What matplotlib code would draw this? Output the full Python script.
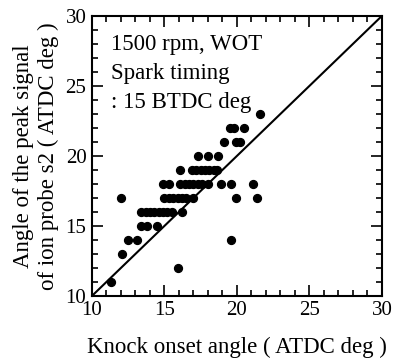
import matplotlib.pyplot as plt
from matplotlib.ticker import MultipleLocator

# knock onset angle (x) vs angle of peak ion signal (y)
knock = [11.3, 12.0, 12.1, 12.5, 13.1,
         13.4, 13.8, 14.5,
         13.4, 13.7, 14.0, 14.3, 14.6, 14.9, 15.2, 15.5, 16.2,
         15.0, 15.3, 15.6, 15.9, 16.2, 16.5, 17.0, 19.9, 21.4,
         14.9, 15.3, 16.1, 16.4, 16.7, 17.0, 17.3, 17.6, 18.0, 18.9, 19.6, 21.1,
         16.1, 16.9, 17.2, 17.5, 17.8, 18.1, 18.4, 18.6,
         17.3, 18.0, 18.7,
         19.1, 19.9, 20.2,
         19.5, 19.8, 20.5,
         21.6, 19.6, 15.9]
peak = [11, 17, 13, 14, 14,
        15, 15, 15,
        16, 16, 16, 16, 16, 16, 16, 16, 16,
        17, 17, 17, 17, 17, 17, 17, 17, 17,
        18, 18, 18, 18, 18, 18, 18, 18, 18, 18, 18, 18,
        19, 19, 19, 19, 19, 19, 19, 19,
        20, 20, 20,
        21, 21, 21,
        22, 22, 22,
        23, 14, 12]

plt.rcParams['font.family'] = ['Liberation Serif', 'DejaVu Serif']

fig = plt.figure(figsize=(3.93, 3.6), dpi=100)
ax = fig.add_axes([0.234, 0.178, 0.738, 0.778])

ax.plot([10, 30], [10, 30], color="black", lw=1.5)
ax.scatter(knock, peak, s=32, color="black", zorder=3)

ax.set_xlim(10, 30)
ax.set_ylim(10, 30)
for a in (ax.xaxis, ax.yaxis):
    a.set_major_locator(MultipleLocator(5))
    a.set_minor_locator(MultipleLocator(1))
ax.tick_params(which="both", direction="in", top=True, right=True, width=1.2)
ax.tick_params(which="major", length=8, labelsize=15, pad=4)
ax.tick_params(which="minor", length=4)
for s in ax.spines.values():
    s.set_linewidth(1.5)

ax.set_xlabel("Knock onset angle ( ATDC deg )", fontsize=16.5, labelpad=12)
ax.set_ylabel("Angle of the peak signal\nof ion probe s2 ( ATDC deg )", fontsize=16.5,
              linespacing=1.2, labelpad=5)

ax.text(0.065, 0.935, "1500 rpm, WOT\nSpark timing\n: 15 BTDC deg", transform=ax.transAxes,
        ha="left", va="top", fontsize=16.5, linespacing=1.5)

fig.savefig("out.png", dpi=100)
